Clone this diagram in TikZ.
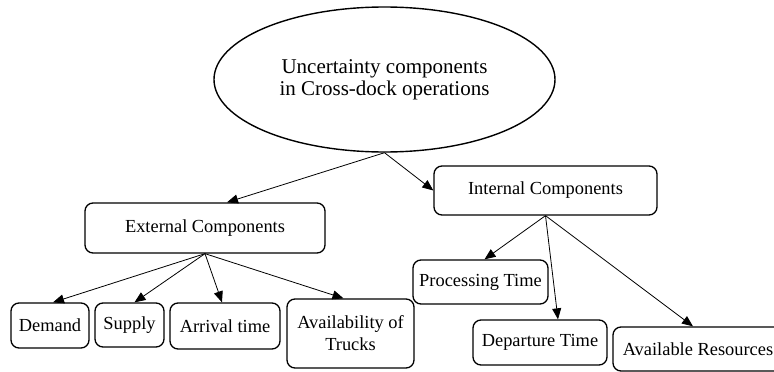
\documentclass[tikz,border=0pt]{standalone}
\usepackage{fontspec}
\setmainfont{Liberation Serif}
\usetikzlibrary{arrows.meta,shapes.geometric}
\begin{document}
\begin{tikzpicture}[x=1pt,y=-1pt,
  box/.style={draw, line width=1.3pt, rounded corners=8pt, inner sep=0pt, align=center,
    font=\fontsize{18.4}{22}\selectfont},
  conn/.style={line width=0.8pt, -{Triangle[length=11pt,width=9pt]}}]
\useasboundingbox (0,0) rectangle (774,372);
\node[draw, ellipse, line width=1.4pt, minimum width=341pt, minimum height=145pt, inner sep=0pt,
  align=center, font=\fontsize{21}{22}\selectfont] (ell) at (384.5,79.5)
  {Uncertainty components\\in Cross-dock operations};
\node[box, minimum width=240pt, minimum height=50pt] (ext) at (205,228) {External Components};
\node[box, minimum width=223pt, minimum height=49pt] (int) at (545.5,190.5) {Internal Components};
\node[box, minimum width=78pt, minimum height=45pt] (dem) at (50,325.5) {Demand};
\node[box, minimum width=69pt, minimum height=44pt] (sup) at (129.5,325) {Supply};
\node[box, minimum width=110pt, minimum height=46pt] (arr) at (225,326) {Arrival time};
\node[box, minimum width=127pt, minimum height=69pt] (avt) at (350.5,333.5) {Availability of\\Trucks};
\node[box, minimum width=135pt, minimum height=44pt] (pro) at (480.5,282) {Processing Time};
\node[box, minimum width=134pt, minimum height=45pt] (dep) at (540,342.5) {Departure Time};
\node[box, minimum width=170pt, minimum height=44pt] (res) at (698,349) {Available Resources};
\draw[conn] (ell.south) -- ([xshift=22pt]ext.north);
\draw[conn] (ell.south) -- (int.west);
\draw[conn] (ext.south) -- ([xshift=3pt]dem.north);
\draw[conn] (ext.south) -- ([xshift=5pt]sup.north);
\draw[conn] (ext.south) -- ([xshift=-3pt]arr.north);
\draw[conn] (ext.south) -- ([xshift=-7pt]avt.north);
\draw[conn] (int.south) -- ([xshift=4pt]pro.north);
\draw[conn] (int.south) -- ([xshift=18pt]dep.north);
\draw[conn] (int.south) -- ([xshift=-5pt]res.north);
\end{tikzpicture}
\end{document}
